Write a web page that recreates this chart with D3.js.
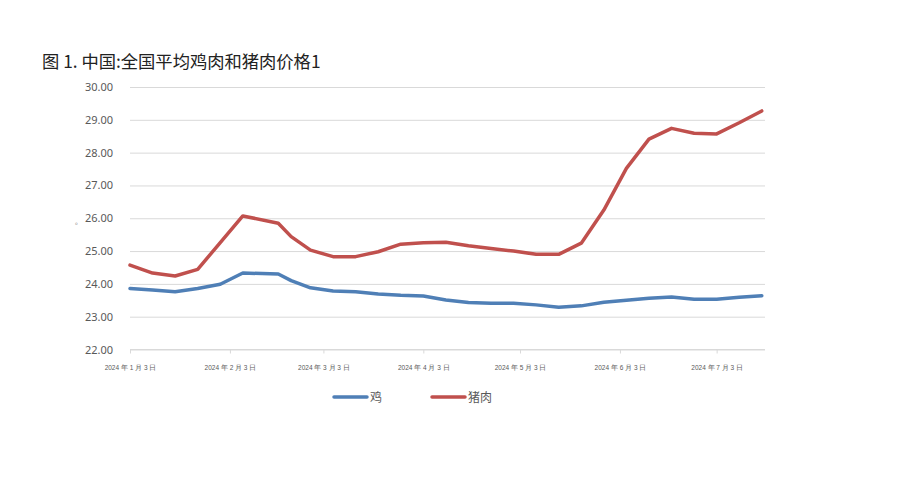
<!DOCTYPE html>
<html><head><meta charset="utf-8">
<script src="https://cdn.jsdelivr.net/npm/d3@7/dist/d3.min.js"></script>
<style>
body{margin:0;background:#fff;}
svg{font-family:"Noto Sans CJK SC","Noto Sans",sans-serif;}
</style></head>
<body>
<svg id="c" width="900" height="482"></svg>
<script>
const dates = ["2024-01-03","2024-01-10","2024-01-17","2024-01-24","2024-01-31","2024-02-07","2024-02-18","2024-02-22","2024-02-28","2024-03-06","2024-03-13","2024-03-20","2024-03-27","2024-04-03","2024-04-10","2024-04-17","2024-04-24","2024-05-01","2024-05-08","2024-05-15","2024-05-22","2024-05-29","2024-06-05","2024-06-12","2024-06-19","2024-06-26","2024-07-03","2024-07-10","2024-07-17"];
const chicken = [23.86,23.81,23.76,23.86,23.99,24.33,24.30,24.10,23.88,23.78,23.76,23.69,23.65,23.63,23.51,23.43,23.41,23.41,23.36,23.29,23.33,23.44,23.50,23.56,23.60,23.53,23.53,23.59,23.64];
const pork = [24.57,24.33,24.24,24.44,25.26,26.07,25.85,25.44,25.03,24.83,24.83,24.98,25.21,25.25,25.27,25.16,25.08,25.00,24.90,24.90,25.24,26.25,27.52,28.41,28.74,28.59,28.57,28.91,29.27];
const xTickDates = ["2024-01-03","2024-02-03","2024-03-03","2024-04-03","2024-05-03","2024-06-03","2024-07-03"];
const yTicks = [22,23,24,25,26,27,28,29,30];
const seriesNames = ["鸡","猪肉"];
const colors = ["#4f7fb6","#c0504d"];
const title = "图 1. 中国:全国平均鸡肉和猪肉价格1";

const parse = d3.timeParse("%Y-%m-%d");
const svg = d3.select("#c");
const L = 130, R = 765, T = 87, B = 349.5;
const x = d3.scaleTime().domain([parse("2024-01-03"), parse("2024-07-18")]).range([L, R]);
const y = d3.scaleLinear().domain([22, 30]).range([B, T]);

svg.append("text").attr("x", 42).attr("y", 68).attr("font-size", 17.3).attr("fill", "#222").text(title);

// gridlines
const yAxis = d3.axisLeft(y).tickValues(yTicks).tickSize(-(R - L)).tickPadding(17).tickFormat(d3.format(".2f"));
const gy = svg.append("g").attr("transform", `translate(${L},0)`).call(yAxis);
gy.select(".domain").remove();
gy.selectAll(".tick line").attr("stroke", "#d9d9d9").attr("stroke-width", 1);
gy.selectAll(".tick text").attr("font-size", 11).attr("fill", "#595959").attr("font-family", "'Noto Sans','Noto Sans CJK SC',sans-serif");

// x axis
const fmt = d => `${d.getFullYear()} 年 ${d.getMonth()+1} 月 ${d.getDate()} 日`;
const xAxis = d3.axisBottom(x).tickValues(xTickDates.map(parse)).tickSize(4).tickPadding(12).tickFormat(fmt);
const gx = svg.append("g").attr("transform", `translate(0,${B})`).call(xAxis);
gx.select(".domain").attr("stroke", "#d9d9d9").attr("d", `M${L},0H${R}`);
gx.selectAll(".tick line").attr("stroke", "#d9d9d9").attr("y1", 0).attr("y2", 4);
gx.selectAll(".tick text").attr("font-size", 6.5).attr("fill", "#595959");

// tiny axis mark
svg.append("text").attr("x", 75).attr("y", 224).attr("font-size", 7).attr("fill", "#777").text("。");

const line = d3.line().x((d, i) => x(parse(dates[i]))).y(d => y(d));
[chicken, pork].forEach((s, k) => {
  svg.append("path").datum(s).attr("d", line).attr("fill", "none")
    .attr("stroke", colors[k]).attr("stroke-width", 3.5).attr("stroke-linejoin", "round").attr("stroke-linecap", "round");
});

// legend
const lg = [{x: 334, tx: 370}, {x: 432, tx: 468}];
seriesNames.forEach((n, k) => {
  svg.append("line").attr("x1", lg[k].x).attr("x2", lg[k].x + 33).attr("y1", 397).attr("y2", 397)
    .attr("stroke", colors[k]).attr("stroke-width", 3.5).attr("stroke-linecap", "round");
  svg.append("text").attr("x", lg[k].tx).attr("y", 401.5).attr("font-size", 12).attr("fill", "#595959").text(n);
});
</script>
</body></html>
